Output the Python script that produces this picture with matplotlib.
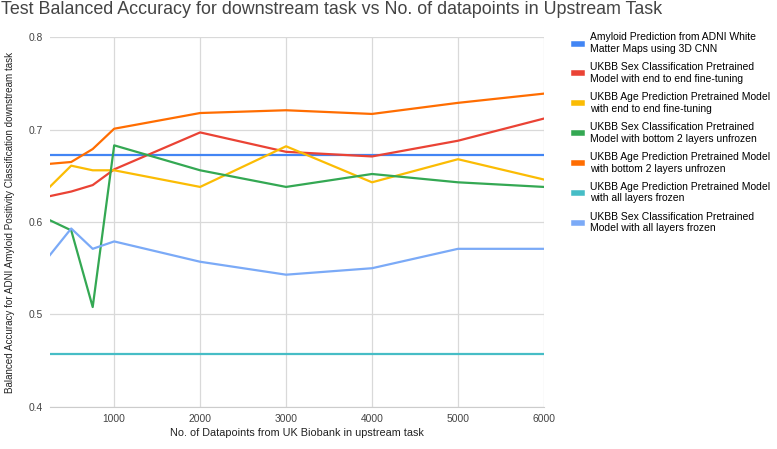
import matplotlib
matplotlib.use("Agg")
from matplotlib import pyplot as plt
from matplotlib.lines import Line2D

plt.rcParams['font.family'] = ['Liberation Sans', 'DejaVu Sans']

# Dados
datapoints = [250, 500, 750, 1000, 2000, 3000, 4000, 5000, 6000]

amyloid_adni = [0.673] * 9
sex_end_to_end = [0.628, 0.633, 0.640, 0.657, 0.697, 0.676, 0.671, 0.688, 0.712]
age_end_to_end = [0.638, 0.661, 0.656, 0.656, 0.638, 0.682, 0.643, 0.668, 0.646]
sex_bottom2 = [0.602, 0.591, 0.508, 0.683, 0.656, 0.638, 0.652, 0.643, 0.638]
age_bottom2 = [0.663, 0.665, 0.679, 0.701, 0.718, 0.721, 0.717, 0.729, 0.739]
age_frozen = [0.457] * 9
sex_frozen = [0.564, 0.593, 0.571, 0.579, 0.557, 0.543, 0.550, 0.571, 0.571]

series = [
    ("Amyloid Prediction from ADNI White\nMatter Maps using 3D CNN", amyloid_adni, '#4285F4'),
    ("UKBB Sex Classification Pretrained\nModel with end to end fine-tuning", sex_end_to_end, '#EA4335'),
    ("UKBB Age Prediction Pretrained Model\nwith end to end fine-tuning", age_end_to_end, '#FBBC04'),
    ("UKBB Sex Classification Pretrained\nModel with bottom 2 layers unfrozen", sex_bottom2, '#34A853'),
    ("UKBB Age Prediction Pretrained Model\nwith bottom 2 layers unfrozen", age_bottom2, '#FF6D01'),
    ("UKBB Age Prediction Pretrained Model\nwith all layers frozen", age_frozen, '#46BDC6'),
    ("UKBB Sex Classification Pretrained\nModel with all layers frozen", sex_frozen, '#7BAAF7'),
]

fig = plt.figure(figsize=(7.77, 4.49), dpi=100)
ax = fig.add_axes([0.064, 0.094, 0.636, 0.823])

for nome, valores, cor in series:
    ax.plot(datapoints, valores, color=cor, linewidth=1.6, label=nome)

ax.set_xlim(250, 6000)
ax.set_ylim(0.4, 0.8)
ax.set_xticks([1000, 2000, 3000, 4000, 5000, 6000])
ax.set_yticks([0.4, 0.5, 0.6, 0.7, 0.8])
ax.set_yticklabels(["0.4", "0.5", "0.6", "0.7", "0.8"])
ax.grid(True, color='#d9d9d9', linewidth=0.9)
ax.set_axisbelow(True)
for s in ['top', 'right', 'left']:
    ax.spines[s].set_visible(False)
ax.spines['bottom'].set_color('#cccccc')
ax.tick_params(length=0, labelsize=7.4, colors='#444444', pad=5)

ax.set_xlabel("No. of Datapoints from UK Biobank in upstream task", fontsize=7.8,
              color='#222222', labelpad=3)
ax.set_ylabel("Balanced Accuracy for ADNI Amyloid Positivity Classification downstream task",
              fontsize=7.1, color='#222222', labelpad=10)

fig.text(0.001, 0.978, "Test Balanced Accuracy for downstream task vs No. of datapoints in Upstream Task",
         fontsize=12.9, color='#444444', va='center', ha='left')

handles = [Line2D([0], [0], color=c, linewidth=4) for _, _, c in series]
labels = [n for n, _, _ in series]
fig.legend(handles, labels, loc='upper left', bbox_to_anchor=(0.733, 0.937),
           frameon=False, fontsize=7.45, handlelength=0.8, handletextpad=0.75,
           labelspacing=0.8, borderaxespad=0)

fig.savefig("out.png", dpi=100)
